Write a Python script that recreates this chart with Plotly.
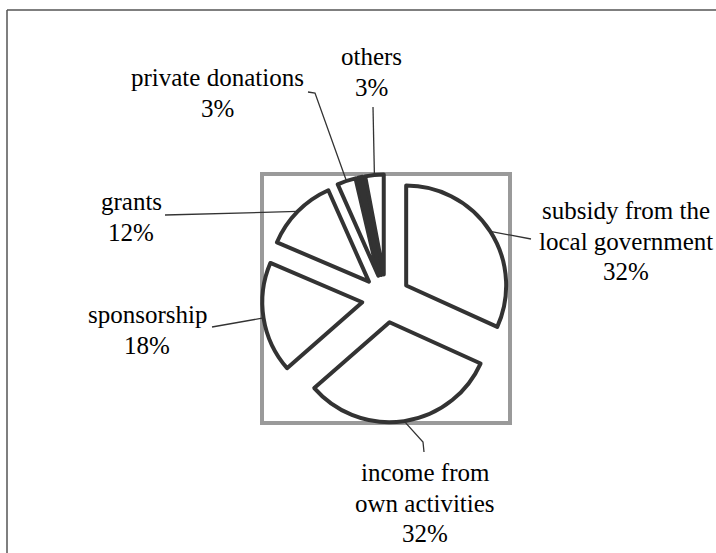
import math
import plotly.graph_objects as go

# ---- data ----
categories = ["subsidy from the<br>local government", "income from<br>own activities",
              "sponsorship", "grants", "private donations", "", "others"]
values = [32, 32, 18, 12, 3, 0.7, 3]
fill_colors = ["white", "white", "white", "white", "white", "#333333", "white"]

W, H = 716, 553

# pie domain in pixels (gray framed square)
DX0, DX1, DY0, DY1 = 262, 510, 174, 423
PULL = 0.24
FONT_SIZE = 25
LINE_GAP = 30.5

def px(x):
    return x / W

def py(y):
    return 1 - y / H

fig = go.Figure()
fig.add_trace(go.Pie(
    labels=[c if c else "unlabeled" for c in categories],
    values=values,
    sort=False,
    direction="clockwise",
    rotation=0,
    pull=[PULL] * len(values),
    textinfo="none",
    hoverinfo="label+percent",
    marker=dict(colors=fill_colors, line=dict(color="#333333", width=4)),
    domain=dict(x=[px(DX0), px(DX1)], y=[py(DY1), py(DY0)]),
    showlegend=False,
))

# label placement (pixel block centres) and leader-line end points
label_pos = {
    0: (626, 241),
    1: (425, 503),
    2: (147, 330),
    3: (131, 217),
    4: (217, 93),
    6: (372, 72),
}
leader_ends = {
    0: [(531, 239)],
    1: [(423, 442), (424, 452)],
    2: [(212, 327)],
    3: [(165, 215)],
    4: [(315, 93), (308, 92)],
    6: [(373, 107)],
}

total = sum(values)
cx = (DX0 + DX1) / 2
cy = (DY0 + DY1) / 2
r = min(DX1 - DX0, DY1 - DY0) / (2 * (1 + PULL))
R = r * (1 + PULL)

shapes = []
annotations = []
cum = 0
for i, v in enumerate(values):
    a0 = cum / total * 360
    cum += v
    a1 = cum / total * 360
    if not categories[i]:
        continue
    mid = math.radians((a0 + a1) / 2)
    ax = cx + R * math.sin(mid)
    ay = cy - R * math.cos(mid)
    pts = [(ax, ay)] + leader_ends[i]
    path = "M " + " L ".join(f"{px(x):.5f},{py(y):.5f}" for x, y in pts)
    shapes.append(dict(type="path", xref="paper", yref="paper", path=path,
                       line=dict(color="#333333", width=1.3)))
    pct = round(v / total * 100)
    lines = categories[i].split("<br>") + [f"{pct}%"]
    lx, ly = label_pos[i]
    n = len(lines)
    for k, t in enumerate(lines):
        yk = ly + (k - (n - 1) / 2) * LINE_GAP
        annotations.append(dict(
            x=px(lx), y=py(yk), xref="paper", yref="paper",
            text=t, showarrow=False,
            xanchor="center", yanchor="middle", align="center",
            font=dict(family="Liberation Serif", size=FONT_SIZE, color="#000000"),
        ))

# gray square around the pie
shapes.append(dict(type="rect", xref="paper", yref="paper",
                   x0=px(DX0), x1=px(DX1), y0=py(DY1), y1=py(DY0),
                   line=dict(color="#9a9a9a", width=4), layer="below"))
# outer frame (left and top edges)
shapes.append(dict(type="line", xref="paper", yref="paper",
                   x0=px(7), x1=px(7), y0=py(10), y1=py(560),
                   line=dict(color="#555555", width=1.5)))
shapes.append(dict(type="line", xref="paper", yref="paper",
                   x0=px(7), x1=px(720), y0=py(10), y1=py(10),
                   line=dict(color="#555555", width=1.5)))

fig.update_layout(
    width=W, height=H,
    margin=dict(l=0, r=0, t=0, b=0),
    paper_bgcolor="white",
    plot_bgcolor="white",
    shapes=shapes,
    annotations=annotations,
)

fig.write_html(
    "out.html",
    config={"displayModeBar": False},
    post_script="document.body.style.margin='0';document.body.style.overflow='hidden';",
)
